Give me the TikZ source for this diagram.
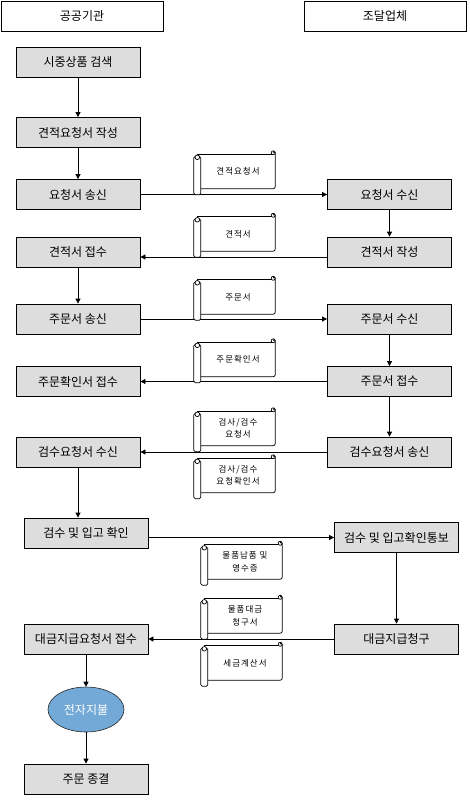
\documentclass[tikz,border=0pt]{standalone}
\usepackage{fontspec}
\setmainfont{Noto Sans CJK KR}
\newfontfamily\docfont[LetterSpace=12]{Noto Sans CJK KR}
\usetikzlibrary{arrows.meta,calc,positioning,shapes.geometric}
\definecolor{boxgray}{HTML}{DDDDDD}
\definecolor{payblue}{HTML}{72A9D7}

\begin{document}
\begin{tikzpicture}[
  x=1pt,y=-1pt,
  party/.style={draw=black,fill=white,line width=0.8pt,minimum width=162pt,
                minimum height=30pt,inner sep=0pt,font=\fontsize{12}{14}\selectfont},
  stepbox/.style={draw=black,fill=boxgray,line width=0.8pt,minimum width=124pt,
                  minimum height=30pt,inner sep=0pt,font=\fontsize{12}{14}\selectfont},
  paynode/.style={ellipse,draw=black!85,fill=payblue,line width=0.6pt,
                  minimum width=76pt,minimum height=45pt,inner sep=0pt,
                  text=white,font=\fontsize{12}{14}\selectfont},
  docsheet/.style={fill=white,minimum width=74pt,minimum height=34pt,inner sep=0pt,
                   align=center,font=\docfont\fontsize{8.5}{12.5}\selectfont},
  scrolline/.style={draw=black,line width=0.7pt},
  flow/.style={-{Triangle[length=5pt,width=5pt]},line width=0.8pt}
]
\useasboundingbox (0,0) rectangle (469,800);

\node[party] (hL) at (82,16) {공공기관};
\node[party] (hR) at (385,16) {조달업체};

\node[stepbox] (L1) at (78,62) {시중상품 검색};
\node[stepbox] (L2) at (78,132.5) {견적요청서 작성};
\node[stepbox] (L3) at (78,194.5) {요청서 송신};
\node[stepbox] (L4) at (78,252) {견적서 접수};
\node[stepbox] (L5) at (78,319) {주문서 송신};
\node[stepbox] (L6) at (78,381.5) {주문확인서 접수};
\node[stepbox] (L7) at (78,452) {검수요청서 수신};
\node[stepbox] (L8) at (86,533) {검수 및 입고 확인};
\node[stepbox] (L9) at (86,639) {대금지급요청서 접수};
\node[paynode] (pay) at (86,709.5) {전자지불};
\node[stepbox] (L10) at (86,779) {주문 종결};

\node[stepbox] (R1) at (389.5,194.5) {요청서 수신};
\node[stepbox] (R2) at (389.5,252) {견적서 작성};
\node[stepbox] (R3) at (389.5,319) {주문서 수신};
\node[stepbox] (R4) at (389.5,381.5) {주문서 접수};
\node[stepbox] (R5) at (389.5,452) {검수요청서 송신};
\node[stepbox] (R6) at (396.5,537.5) {검수 및 입고확인통보};
\node[stepbox] (R7) at (396.5,639) {대금지급청구};

\draw[flow] (L1) -- (L2);
\draw[flow] (L2) -- (L3);
\draw[flow] (L3) -- (R1);
\draw[flow] (R1) -- (R2);
\draw[flow] ([yshift=-5pt]R2.west) -- ([yshift=-5pt]L4.east);
\draw[flow] (L4) -- (L5);
\draw[flow] (L5) -- (R3);
\draw[flow] (R3) -- (R4);
\draw[flow] (R4) -- (L6);
\draw[flow] (R4) -- (R5);
\draw[flow] (R5) -- (L7);
\draw[flow] (L7.south) -- (L7.south |- L8.north);
\draw[flow] (L8.east |- R6.west) -- (R6.west);
\draw[flow] (R6) -- (R7);
\draw[flow] (R7) -- (L9);
\draw[flow] (L9) -- (pay);
\draw[flow] (pay) -- (L10);

\foreach \n/\x/\y/\t in {d1/238/171.5/견적요청서, d2/238/234/견적서,
    d3/238/297/주문서, d4/238/359.5/주문확인서,
    d5/238/428.5/{검사/검수\\요청서}, d6/238/475.5/{검사/검수\\요청확인서},
    d7/245/562/{물품납품 및\\영수증}, d8/245/616/{물품대금\\청구서},
    d9/245/663/세금계산서}
{
  \node[docsheet] (\n) at (\x,\y) {\t};
  \draw[scrolline] ($(\n.north west)+(-4,0)$) -- ($(\n.north east)+(-3,0)$);
  \draw[scrolline,rounded corners=2pt] ($(\n.north east)+(0,-2)$)
    -- (\n.south east) -- (\n.south west);
  \draw[scrolline,fill=white] ($(\n.north east)+(-2,-1.5)$) circle (2);
  \fill ($(\n.north east)+(-1.3,-2.2)$) circle (1);
  \draw[scrolline,fill=white,rounded corners=1.5pt]
    ($(\n.north west)+(-7,2)$) rectangle ($(\n.south west)+(0,6)$);
  \draw[scrolline,fill=white] ($(\n.north west)+(-3.5,3)$) circle (2.3);
}
\end{tikzpicture}
\end{document}
